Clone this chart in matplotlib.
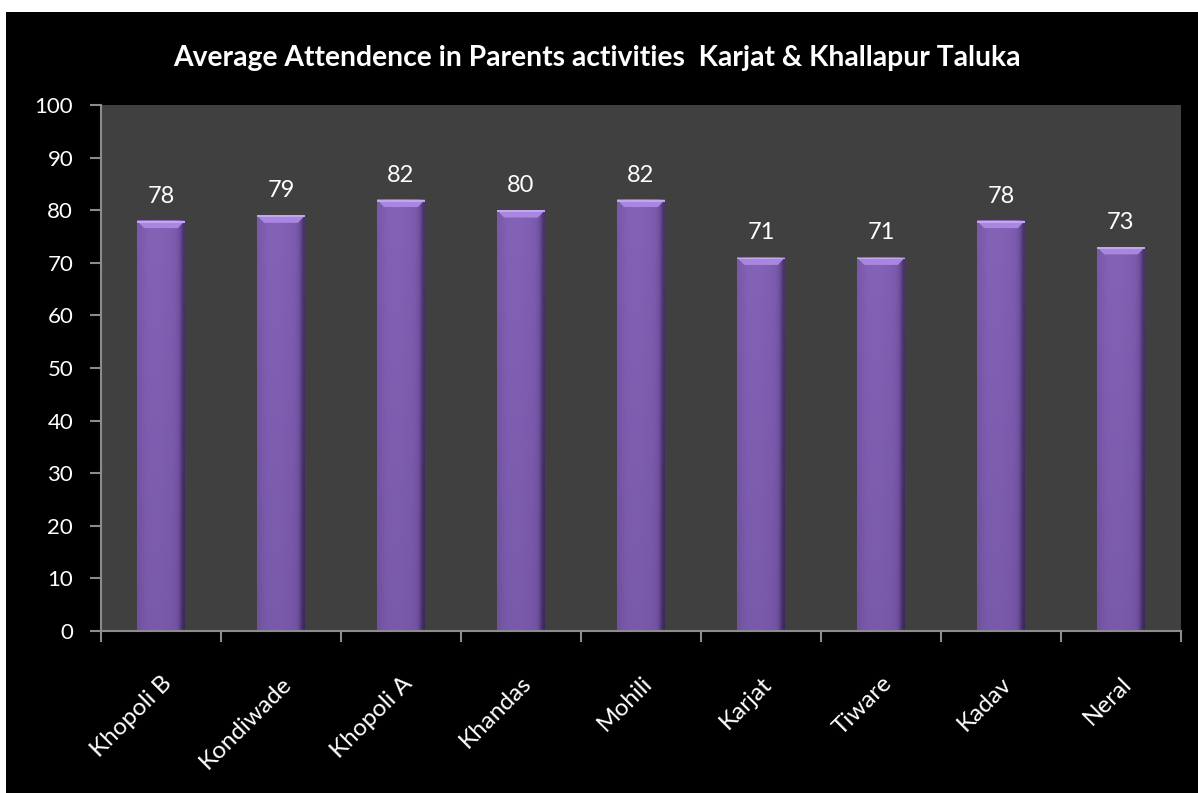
import matplotlib
matplotlib.use("Agg")
import matplotlib.pyplot as plt
import numpy as np
from matplotlib.patches import Rectangle, Polygon
from matplotlib.colors import LinearSegmentedColormap

categories = ["Khopoli B", "Kondiwade", "Khopoli A", "Khandas", "Mohili",
              "Karjat", "Tiware", "Kadav", "Neral"]
values = [78, 79, 82, 80, 82, 71, 71, 78, 73]
yticks = [0, 10, 20, 30, 40, 50, 60, 70, 80, 90, 100]
title = "Average Attendence in Parents activities  Karjat & Khallapur Taluka"

FONT = ["Lato", "DejaVu Sans"]
plt.rcParams["font.family"] = FONT

W, H = 1198, 793
fig = plt.figure(figsize=(W / 100, H / 100), dpi=100, facecolor="white")
fig.patches.append(Rectangle((6 / W, 0), 1 - 6 / W, (H - 12) / H,
                             transform=fig.transFigure, facecolor="black",
                             edgecolor="none", zorder=-10))

ax = fig.add_axes([101 / W, (H - 631) / H, (1181 - 101) / W, (631 - 105) / H])
ax.set_zorder(2)
ax.set_facecolor("#404040")

n = len(categories)
x = np.arange(n)
bw = 0.4
ax.set_xlim(-0.5, n - 0.5)
ax.set_ylim(0, 100)

bars = ax.bar(x, values, width=bw, color="#7a58ad", edgecolor="none", zorder=2)

# horizontal + vertical shading gradient
hgrad = np.array([0.85, 0.95, 1.0, 1.0, 1.0, 0.98, 0.96, 0.93, 0.85, 0.45])
vgrad = np.linspace(0.86, 1.0, 50)[:, None]
shade = vgrad * hgrad[None, :]
cmap = LinearSegmentedColormap.from_list("p", ["#2a1c40", "#6a4d9a", "#8462b6"])
for xi, v in zip(x, values):
    ax.imshow(shade, cmap=cmap, vmin=0.3, vmax=1.0, aspect="auto",
              extent=(xi - bw / 2, xi + bw / 2, 0, v), origin="lower",
              zorder=2.5, interpolation="bicubic")
    cap = 1.4
    dx = 0.06
    ax.add_patch(Polygon([(xi - bw / 2, v), (xi + bw / 2, v),
                          (xi + bw / 2 - dx, v - cap), (xi - bw / 2 + dx, v - cap)],
                         closed=True, facecolor="#a987e0", edgecolor="none", zorder=3))
    ax.add_patch(Polygon([(xi - bw / 2, v), (xi + bw / 2, v),
                          (xi + bw / 2, v - 0.35), (xi - bw / 2, v - 0.35)],
                         closed=True, facecolor="#c3a6f0", edgecolor="none", zorder=3.1))
    ax.annotate(str(v), (xi, v), xytext=(0, 13), textcoords="offset points",
                ha="center", va="baseline", color="white", fontsize=17, zorder=4)

ax.set_xlim(-0.5, n - 0.5)
ax.set_ylim(0, 100)

for s in ["top", "right"]:
    ax.spines[s].set_visible(False)
for s in ["left", "bottom"]:
    ax.spines[s].set_color("#8c8c8c")
    ax.spines[s].set_linewidth(1.5)
ax.spines["left"].set_zorder(5)

ax.set_yticks(yticks)
ax.set_yticklabels([str(t) for t in yticks])
ax.tick_params(axis="y", direction="out", length=8, width=1.5, color="#8c8c8c",
               labelcolor="white", labelsize=16, pad=12)

ax.set_xticks(x)
ax.set_xticks(np.arange(-0.5, n, 1.0), minor=True)
ax.tick_params(axis="x", which="major", length=0, labelcolor="white", labelsize=17.5, pad=30)
ax.tick_params(axis="x", which="minor", direction="out", length=8, width=1.5, color="#8c8c8c")
ax.set_xticklabels(categories, rotation=45, ha="right", rotation_mode="anchor")

fig.text(597 / W, 1 - 58 / H, title, ha="center", va="center",
         color="white", fontsize=20.3, fontweight="bold")

fig.savefig("out.png", dpi=100, facecolor="white")
